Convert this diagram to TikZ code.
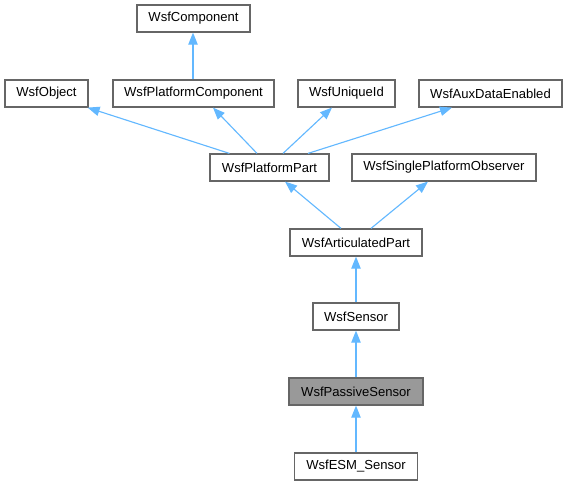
\documentclass[tikz,border=0pt]{standalone}
\usepackage{fontspec}
\setmainfont{Liberation Sans}
\usepackage{tikz}
\usetikzlibrary{arrows.meta, positioning, calc}
\definecolor{edgeblue}{HTML}{63B8FF}
\definecolor{boxgray}{HTML}{666666}
\definecolor{activegray}{HTML}{999999}

\tikzset{
  cls/.style={draw=boxgray, fill=white, line width=0.9pt, inner sep=0pt,
    minimum height=20.25pt, font=\fontsize{9.8}{10}\selectfont},
  clsactive/.style={cls, fill=activegray},
  inh/.style={edgeblue, line width=0.85pt, -{Triangle[length=9pt, width=7pt]}}
}

\begin{document}
\begin{tikzpicture}[x=0.75pt, y=-0.75pt]
  % Canvas
  \useasboundingbox (0,0) rectangle (568,485);

  % Top row
  \node[cls, minimum width=84.75pt] (comp) at (193.5,18.5) {WsfComponent};

  % Base classes of the platform part
  \node[cls, minimum width=62.25pt] (obj) at (46.5,93.5) {WsfObject};
  \node[cls, minimum width=120.75pt] (pcomp) at (193.5,93.5) {WsfPlatformComponent};
  \node[cls, minimum width=72.75pt] (uid) at (346.5,93.5) {WsfUniqueId};
  \node[cls, minimum width=107.25pt] (aux) at (490.5,93.5) {WsfAuxDataEnabled};

  % Middle row
  \node[cls, minimum width=89.25pt] (ppart) at (269.5,167.5) {WsfPlatformPart};
  \node[cls, minimum width=138pt] (obs) at (444,167.5) {WsfSinglePlatformObserver};

  % Sensor chain
  \node[cls, minimum width=99pt] (art) at (356,242.5) {WsfArticulatedPart};
  \node[cls, minimum width=64.5pt] (sens) at (356,316.5) {WsfSensor};
  \node[clsactive, minimum width=100.5pt] (pass) at (356,391.5) {WsfPassiveSensor};
  \node[cls, minimum width=92.25pt] (esm) at (356,466.5) {WsfESM\_Sensor};

  % Inheritance edges
  \draw[inh] ($(pcomp.north)+(-0.5,0)$) -- ($(comp.south)+(-0.5,0)$);
  \draw[inh] ($(ppart.north west)+(20,0)$) -- ($(obj.south east)+(-1,0)$);
  \draw[inh] ($(ppart.north)+(-12.5,0)$) -- ($(pcomp.south)+(19.5,0)$);
  \draw[inh] ($(ppart.north)+(13.5,0)$) -- ($(uid.south)+(-14.5,0)$);
  \draw[inh] ($(ppart.north)+(38.5,0)$) -- ($(aux.south)+(-38.5,0)$);
  \draw[inh] ($(art.north)+(-15,0)$) -- ($(ppart.south)+(15.5,0)$);
  \draw[inh] ($(art.north)+(15,0)$) -- ($(obs.south)+(-16,0)$);
  \draw[inh] (sens.north) -- (art.south);
  \draw[inh] (pass.north) -- (sens.south);
  \draw[inh] (esm.north) -- (pass.south);
\end{tikzpicture}
\end{document}
